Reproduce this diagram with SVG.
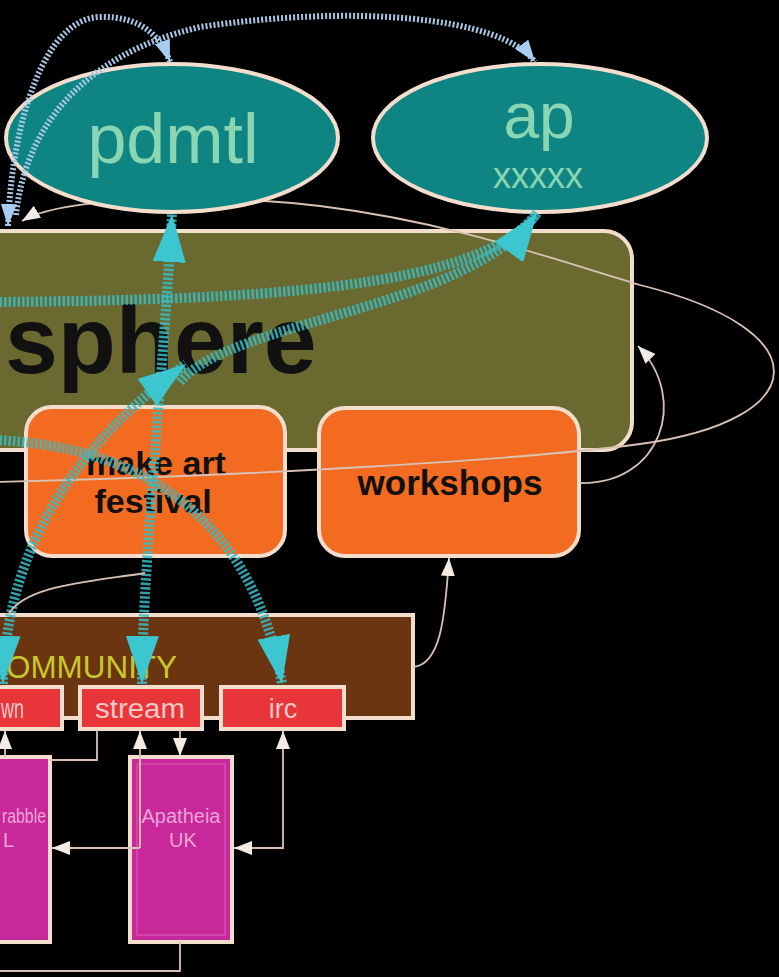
<svg xmlns="http://www.w3.org/2000/svg" width="779" height="977" viewBox="0 0 779 977">
<style>
.bg{fill:#000}
.ell{fill:#0f8583;stroke:#f3ddcc;stroke-width:4}
.ellt{font-family:"Liberation Sans",Arial,sans-serif;fill:#8ad6b2;text-anchor:middle}
.box{stroke:#f3ddcc;stroke-width:4}
.bt{font-family:"Liberation Sans",Arial,sans-serif;font-weight:bold;fill:#111;text-anchor:middle}
.rt{font-family:"Liberation Sans",Arial,sans-serif;fill:#f4c8c8;text-anchor:middle}
.mt{font-family:"Liberation Sans",Arial,sans-serif;fill:#e8a4d6;text-anchor:middle}
.teal{fill:none;stroke:#38bcc6;stroke-width:10;stroke-dasharray:2.5 2;stroke-opacity:0.85}
.blue{fill:none;stroke:#a8c6e6;stroke-width:6;stroke-dasharray:2 2}
.thin{fill:none;stroke:#d9c2b4;stroke-width:1.8}
</style>
<defs>
<marker id="ta" viewBox="0 0 48 33" refX="48" refY="16.5" markerWidth="48" markerHeight="33" markerUnits="userSpaceOnUse" orient="auto-start-reverse"><path d="M0,0 L48,16.5 L0,33 z" fill="#3cc6d0"/></marker>
<marker id="ba" viewBox="0 0 22 16" refX="22" refY="8" markerWidth="22" markerHeight="16" markerUnits="userSpaceOnUse" orient="auto-start-reverse"><path d="M0,0 L22,8 L0,16 z" fill="#a8cdf0"/></marker>
<marker id="wa" viewBox="0 0 18 14" refX="18" refY="7" markerWidth="18" markerHeight="14" markerUnits="userSpaceOnUse" orient="auto-start-reverse"><path d="M0,0 L18,7 L0,14 z" fill="#f4ebe6"/></marker>
</defs>
<rect class="bg" x="0" y="0" width="779" height="977"/>

<g id="sphere">
<rect class="box" x="-40" y="231" width="672" height="219" rx="28" fill="#6a6a30"/>
<text class="bt" x="5" y="373" font-size="95" style="text-anchor:start">sphere</text>
</g>
<g id="make-art-festival">
<rect class="box" x="26" y="407" width="259" height="149" rx="26" fill="#f26b20"/>
<text class="bt" x="156" y="475" font-size="34">make art</text>
<text class="bt" x="153" y="513" font-size="34">festival</text>
</g>
<g id="workshops">
<rect class="box" x="319" y="408" width="260" height="148" rx="26" fill="#f26b20"/>
<text class="bt" x="450" y="495" font-size="35">workshops</text>
</g>
<g id="community">
<rect class="box" x="-30" y="615" width="443" height="103" fill="#6a3510"/>
<text x="6" y="678" font-size="32" font-family="Liberation Sans, Arial, sans-serif" fill="#c8c82a" textLength="171" lengthAdjust="spacingAndGlyphs">OMMUNITY</text>
</g>
<g id="wn">
<rect class="box" x="-30" y="687" width="92" height="42" fill="#e8353a" stroke-width="3"/>
<text class="rt" x="1" y="718" font-size="27" style="text-anchor:start" textLength="23" lengthAdjust="spacingAndGlyphs">wn</text>
</g>
<g id="stream">
<rect class="box" x="80" y="687" width="122" height="42" fill="#e8353a" stroke-width="3"/>
<text class="rt" x="140" y="718" font-size="27" textLength="90" lengthAdjust="spacingAndGlyphs">stream</text>
</g>
<g id="irc">
<rect class="box" x="221" y="687" width="123" height="42" fill="#e8353a" stroke-width="3"/>
<text class="rt" x="283" y="718" font-size="27">irc</text>
</g>
<g id="rabble">
<rect class="box" x="-30" y="757" width="80" height="185" fill="#c9289a" stroke-width="3.5"/>
<text class="mt" x="2" y="823" font-size="20" style="text-anchor:start" textLength="44" lengthAdjust="spacingAndGlyphs">rabble</text>
<text class="mt" x="3" y="847" font-size="20" style="text-anchor:start">L</text>
</g>
<g id="apatheia">
<rect class="box" x="130" y="757" width="102" height="185" fill="#c9289a" stroke-width="3.5"/>
<rect x="137" y="764" width="88" height="171" fill="none" stroke="#e58ccb" stroke-width="1" opacity="0.6"/>
<text class="mt" x="181" y="823" font-size="20">Apatheia</text>
<text class="mt" x="183" y="847" font-size="20">UK</text>
</g>

<g id="connectors-behind">
<path class="thin" d="M -5,482 C 250,476 520,460 640,444 C 815,420 822,330 640,285 C 550,258 450,222 320,206 C 200,192 60,198 22,221" marker-end="url(#wa)"/>
</g>

<g id="pdmtl">
<ellipse class="ell" cx="172" cy="138" rx="166" ry="74"/>
<text class="ellt" x="173" y="163" font-size="70">pdmtl</text>
</g>
<g id="ap">
<ellipse class="ell" cx="540" cy="138" rx="167" ry="74"/>
<text class="ellt" x="539" y="138" font-size="64">ap</text>
<text class="ellt" x="538" y="188" font-size="36">xxxxx</text>
</g>

<g id="connectors">
<path class="blue" d="M 8,226 C 12,120 45,18 100,17 C 140,16 160,35 170,62" marker-start="url(#ba)" marker-end="url(#ba)"/>
<path class="blue" d="M 16,215 C 25,130 80,55 200,27 C 350,5 500,15 535,62" marker-end="url(#ba)"/>

<path class="teal" d="M -5,302 C 250,300 480,290 537,213" marker-end="url(#ta)"/>
<path class="teal" d="M 180,382 C 230,320 470,310 537,213" marker-end="url(#ta)"/>
<path class="teal" d="M 142,684 C 143,560 160,420 172,214" marker-start="url(#ta)" marker-end="url(#ta)"/>
<path class="teal" d="M 3,684 C 5,590 40,470 186,364" marker-start="url(#ta)" marker-end="url(#ta)"/>
<path class="teal" d="M -5,440 C 120,445 250,500 282,684" marker-end="url(#ta)"/>

<path class="thin" d="M 580,483 C 660,485 690,400 638,346" marker-end="url(#wa)"/>
<path class="thin" d="M 413,667 C 440,665 445,620 449,558" marker-end="url(#wa)"/>
<path class="thin" d="M 145,573 C 90,582 25,585 8,615"/>
<path class="thin" d="M 5,757 L 5,731" marker-end="url(#wa)"/>
<path class="thin" d="M 97,730 L 97,760 L 50,760"/>
<path class="thin" d="M 140,848 L 140,731" marker-end="url(#wa)"/>
<path class="thin" d="M 140,848 L 52,848" marker-end="url(#wa)"/>
<path class="thin" d="M 180,730 L 180,756" marker-end="url(#wa)"/>
<path class="thin" d="M 283,731 L 283,848 L 234,848" marker-start="url(#wa)" marker-end="url(#wa)"/>
<path class="thin" d="M 180,942 L 180,971 L -5,971"/>
</g>
</svg>
